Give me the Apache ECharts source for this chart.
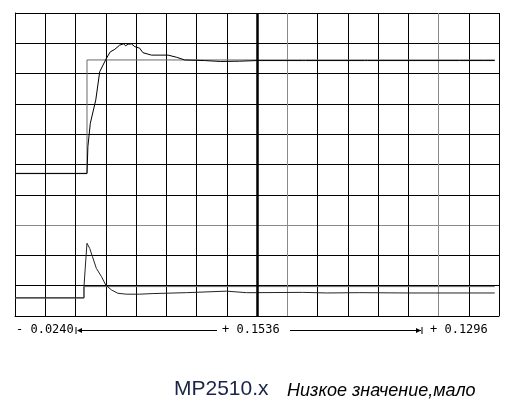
<!DOCTYPE html>
<html>
<head>
<meta charset="UTF-8">
<title>MP2510.x</title>
<script src="https://cdn.jsdelivr.net/npm/echarts@6/dist/echarts.min.js"></script>
<style>
html,body{margin:0;padding:0;background:#fff;}
#chart{width:512px;height:407px;}
</style>
</head>
<body>
<div id="chart"></div>
<script>
// units: grid divisions (16 x 10)
var upperRef = [[0, 4.71], [2.38, 4.71], [2.38, 8.45], [15.86, 8.45]];
var upperResp = [[0, 4.70], [2.38, 4.70], [2.41, 5.59], [2.49, 6.36], [2.67, 7.13], [2.80, 8.06], [2.91, 8.28],
	[3.02, 8.50], [3.15, 8.72], [3.30, 8.80], [3.46, 8.94], [3.59, 8.98], [3.66, 8.92], [3.74, 8.97],
	[3.85, 8.98], [3.96, 8.89], [4.12, 8.84], [4.23, 8.69], [4.51, 8.61], [5.06, 8.61], [5.34, 8.54],
	[5.61, 8.45], [6.27, 8.43], [6.80, 8.40], [7.43, 8.41], [7.99, 8.43], [9.50, 8.43], [9.55, 8.46],
	[9.60, 8.43], [11.55, 8.43], [11.60, 8.47], [11.65, 8.43], [14.70, 8.43], [14.72, 8.40], [15.50, 8.43],
	[15.52, 8.46], [15.86, 8.43]];
var lowerRef = [[0, 0.594], [2.28, 0.594], [2.28, 0.97], [15.86, 0.97]];
var lowerResp = [[0, 0.60], [2.28, 0.60], [2.28, 0.97], [2.34, 0.97], [2.34, 1.85], [2.38, 2.40], [2.47, 2.23],
	[2.56, 1.96], [2.69, 1.57], [2.86, 1.30], [3.00, 1.02], [3.19, 0.86], [3.40, 0.75], [3.68, 0.72],
	[4.12, 0.72], [4.56, 0.74], [5.67, 0.77], [6.99, 0.82], [7.65, 0.77], [7.99, 0.77], [9.50, 0.78],
	[10.30, 0.76], [11.40, 0.77], [13.00, 0.76], [15.86, 0.76]];
var cursorLabels = ['- 0.0240', '+ 0.1536', '+ 0.1296'];
var titleMain = 'MP2510.x';
var titleSub = 'Низкое значение,мало';

var vColors = [], hColors = [];
for (var i = 0; i <= 16; i++) vColors.push(i == 9 || i == 14 ? '#8a8a8a' : '#000');
for (var j = 0; j <= 10; j++) hColors.push(j == 3 ? '#8a8a8a' : '#000');

var chart = echarts.init(document.getElementById('chart'));
var mono = 'DejaVu Sans Mono';
chart.setOption({
	animation: false,
	grid: {left: 15, top: 13, width: 484, height: 303},
	xAxis: {
		type: 'value', min: 0, max: 16, interval: 1,
		axisLine: {show: true, lineStyle: {color: '#000', width: 1}},
		axisTick: {show: false}, axisLabel: {show: false},
		splitLine: {show: true, lineStyle: {color: vColors, width: 1}}
	},
	yAxis: {
		type: 'value', min: 0, max: 10, interval: 1,
		axisLine: {show: true, lineStyle: {color: '#000', width: 1}},
		axisTick: {show: false}, axisLabel: {show: false},
		splitLine: {show: true, lineStyle: {color: hColors, width: 1}}
	},
	series: [
		{type: 'line', data: upperRef, symbol: 'none', lineStyle: {color: '#6a6a6a', width: 1},
			markLine: {silent: true, symbol: 'none', label: {show: false},
				lineStyle: {color: '#000', width: 2.5, type: 'solid'}, data: [{xAxis: 8}]}},
		{type: 'line', data: lowerRef, symbol: 'none', lineStyle: {color: '#6a6a6a', width: 1}},
		{type: 'line', data: upperResp, symbol: 'none', lineStyle: {color: '#000', width: 1}},
		{type: 'line', data: lowerResp, symbol: 'none', lineStyle: {color: '#222', width: 1}}
	],
	graphic: [
		{type: 'text', left: 16, top: 324, style: {text: cursorLabels[0], font: '12px ' + mono, fill: '#000'}},
		{type: 'line', shape: {x1: 76, y1: 327, x2: 76, y2: 334}, style: {stroke: '#000', lineWidth: 1}},
		{type: 'polygon', shape: {points: [[77, 330.5], [82, 328], [82, 333]]}, style: {fill: '#000'}},
		{type: 'line', shape: {x1: 82, y1: 330.5, x2: 217, y2: 330.5}, style: {stroke: '#000', lineWidth: 1}},
		{type: 'text', left: 222, top: 324, style: {text: cursorLabels[1], font: '12px ' + mono, fill: '#000'}},
		{type: 'line', shape: {x1: 290, y1: 330.5, x2: 421, y2: 330.5}, style: {stroke: '#000', lineWidth: 1}},
		{type: 'polygon', shape: {points: [[421, 330.5], [416, 328], [416, 333]]}, style: {fill: '#000'}},
		{type: 'line', shape: {x1: 422, y1: 327, x2: 422, y2: 334}, style: {stroke: '#000', lineWidth: 1}},
		{type: 'text', left: 430, top: 324, style: {text: cursorLabels[2], font: '12px ' + mono, fill: '#000'}},
		{type: 'text', left: 174, top: 379, style: {text: titleMain, font: '21px "Liberation Sans"', fill: '#1a2448'}},
		{type: 'text', left: 287, top: 382, style: {text: titleSub, font: 'italic 18px "Liberation Sans"', fill: '#000'}}
	]
});
</script>
</body>
</html>
